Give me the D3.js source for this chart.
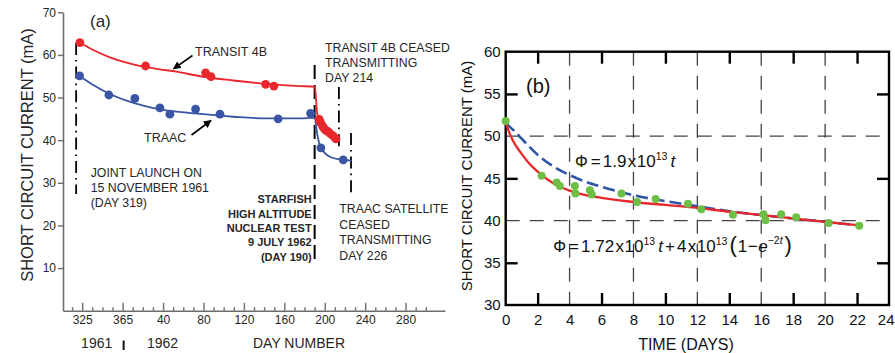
<!DOCTYPE html>
<html>
<head>
<meta charset="utf-8">
<script src="https://cdn.jsdelivr.net/npm/d3@7"></script>
<style>
  html, body { margin: 0; padding: 0; background: #fff; }
  svg { display: block; font-family: "Liberation Sans", Arial, Helvetica, sans-serif; }
</style>
</head>
<body>
<svg id="chart" width="895" height="353"></svg>
<script>
// ---------- Panel (a): solar-cell current of TRANSIT 4B and TRAAC ----------
// Day numbers are counted from 1 Jan 1961; days of 1962 carry an offset of 365.
const transitDays    = [322.7, 387.7, 447.1, 452.4, 506.5, 514.7, 559.5, 560.9, 562.9, 564.2, 566.1, 568.4, 570.8, 573.4, 576.1];
const transitCurrent = [62.9, 57.4, 55.8, 54.9, 53.1, 52.7, 44.9, 44.1, 43.3, 42.8, 42.3, 42.0, 41.45, 41.0, 40.3];

const transitFitDays    = [322.7, 335.9, 352.4, 368.9, 385.4, 401.9, 418.4, 441.7, 474.4, 507.5, 540.4, 555.2, 557.5, 559.5, 565.2, 570.4, 577.0];
const transitFitCurrent = [62.9, 61.15, 59.44, 58.18, 57.24, 56.63, 56.06, 55.0, 54.0, 53.2, 52.7, 52.55, 46.3, 44.8, 42.4, 41.1, 39.9];

const traacDays    = [322.4, 351.4, 377.1, 401.9, 411.8, 437.2, 461.3, 518.9, 551.0, 561.2, 583.3];
const traacCurrent = [55.1, 50.6, 49.8, 47.6, 46.1, 47.3, 46.1, 45.0, 46.3, 38.2, 35.4];

const traacFitDays    = [322.4, 335.9, 352.4, 368.9, 385.4, 401.9, 418.4, 434.8, 474.4, 507.5, 540.4, 555.2, 556.9, 559.5, 561.8, 570.1, 583.3, 591.6];
const traacFitCurrent = [55.06, 52.95, 50.83, 49.26, 48.09, 47.24, 46.68, 46.3, 45.5, 45.1, 45.1, 45.27, 42.4, 39.3, 38.1, 36.1, 35.35, 35.2];

const launchDay      = 319;        // 15 November 1961
const starfishDay    = 365 + 190;  // 9 July 1962
const transitEndDay  = 365 + 214;
const traacEndDay    = 365 + 226;

const dayMajorTicks  = [325, 365, 405, 445, 485, 525, 565, 605, 645];
const dayTickLabels  = ["325", "365", "40", "80", "120", "160", "200", "240", "280"];
const dayMinorTicks  = d3.range(315, 666, 10).filter(d => !dayMajorTicks.includes(d));
const currentTicksA  = [10, 20, 30, 40, 50, 60, 70];

// ---------- Panel (b): current versus time after the test ----------
const timeDays    = [0, 2.25, 3.19, 3.39, 4.33, 4.37, 5.27, 5.39, 7.25, 8.23, 9.39, 11.41, 12.25, 14.23, 16.14, 16.27, 17.25, 18.19, 20.23, 22.14];
const measuredmA  = [51.8, 45.3, 44.5, 44.1, 44.1, 43.2, 43.6, 43.1, 43.2, 42.2, 42.55, 42.0, 41.35, 40.7, 40.75, 40.05, 40.75, 40.4, 39.7, 39.4];

const fitTime     = [0, 0.25, 0.5, 1, 1.5, 2, 3, 4, 5, 6, 8, 10, 12, 14, 16, 18, 20, 22];
const twoTermFit  = [51.6, 50.3, 49.3, 47.9, 46.7, 45.8, 44.4, 43.55, 43.0, 42.7, 42.2, 41.85, 41.5, 41.05, 40.65, 40.25, 39.85, 39.45];
const linearFit   = [51.6, 51.1, 50.7, 49.7, 48.7, 47.8, 46.4, 45.4, 44.6, 44.0, 43.0, 42.3, 41.7, 41.1, 40.65, 40.25, 39.85, 39.45];

const timeLabels  = d3.range(0, 25, 2);
const timeTicks   = [2, 6, 10, 14, 18, 22];
const timeGrid    = [4, 8, 12, 16, 20];
const mAlabelsB   = [30, 35, 40, 45, 50, 55, 60];
const mATicksB    = [35, 45, 55];
const mAGridB     = [40, 50];

// ---------- colours ----------
const RED = "#e8262b", BLUE = "#3a55a4", GREEN = "#6dbf46", AXIS_GREY = "#6e6e6e", TEXT = "#262626";

const svg = d3.select("#chart");

// arrow head marker
svg.append("defs").append("marker")
  .attr("id", "arrowHead").attr("viewBox", "0 0 10 10")
  .attr("refX", 9).attr("refY", 5)
  .attr("markerWidth", 8).attr("markerHeight", 8)
  .attr("markerUnits", "userSpaceOnUse")
  .attr("orient", "auto")
  .append("path").attr("d", "M0,0 L10,5 L0,10 Z").attr("fill", "#000");

// ================= Panel (a) =================
const xA = d3.scaleLinear().domain([306, 684]).range([63, 445]);
const yA = d3.scaleLinear().domain([0, 70]).range([310.7, 12.3]);
const gA = svg.append("g");

// y axis
const yAxisA = gA.append("g").attr("transform", `translate(${xA.range()[0]},0)`)
  .call(d3.axisLeft(yA).tickValues(currentTicksA).tickSize(5).tickSizeOuter(0).tickPadding(2));
// x axis (major + minor ticks pointing up)
const xAxisA = gA.append("g").attr("transform", `translate(0,${yA(0)})`)
  .call(d3.axisBottom(xA).tickValues(dayMajorTicks).tickSize(-8).tickSizeOuter(0).tickPadding(13)
        .tickFormat((d, i) => dayTickLabels[i]));
const xMinorA = gA.append("g").attr("transform", `translate(0,${yA(0)})`)
  .call(d3.axisBottom(xA).tickValues(dayMinorTicks).tickSize(-3.5).tickSizeOuter(0).tickFormat(""));
xMinorA.select(".domain").remove();
[yAxisA, xAxisA, xMinorA].forEach(ax => {
  ax.selectAll("path.domain").attr("stroke", AXIS_GREY).attr("stroke-width", 1.6);
  ax.selectAll(".tick line").attr("stroke", AXIS_GREY).attr("stroke-width", 1.4);
  ax.selectAll("text").attr("fill", TEXT).attr("font-size", 12)
    .attr("font-family", "'Liberation Sans', Arial, sans-serif");
});
xAxisA.selectAll("text").attr("dy", null).attr("y", 13.3);

gA.append("text").attr("transform", "translate(33,155) rotate(-90)")
  .attr("text-anchor", "middle").attr("font-size", 16.5).attr("fill", TEXT)
  .text("SHORT CIRCUIT CURRENT (mA)");

gA.append("text").attr("x", 96.7).attr("y", 348).attr("text-anchor", "middle")
  .attr("font-size", 14).attr("fill", TEXT).text("1961");
gA.append("text").attr("x", 162.5).attr("y", 348).attr("text-anchor", "middle")
  .attr("font-size", 14).attr("fill", TEXT).text("1962");
gA.append("line").attr("x1", xA(366)).attr("x2", xA(366)).attr("y1", 340.5).attr("y2", 350)
  .attr("stroke", "#111").attr("stroke-width", 2);
gA.append("text").attr("x", 299).attr("y", 348).attr("text-anchor", "middle")
  .attr("font-size", 14).attr("fill", TEXT).text("DAY NUMBER");

gA.append("text").attr("x", 90).attr("y", 27).attr("font-size", 17).attr("fill", TEXT).text("(a)");

// event lines
const dashDot = "12,5,1.6,5";
gA.append("line").attr("x1", xA(launchDay)).attr("x2", xA(launchDay)).attr("y1", 43).attr("y2", 194)
  .attr("stroke", "#000").attr("stroke-width", 1.8).attr("stroke-dasharray", dashDot);
gA.append("line").attr("x1", xA(starfishDay)).attr("x2", xA(starfishDay)).attr("y1", 65).attr("y2", 263)
  .attr("stroke", "#000").attr("stroke-width", 2).attr("stroke-dasharray", "14,6");
gA.append("line").attr("x1", xA(transitEndDay)).attr("x2", xA(transitEndDay)).attr("y1", 87).attr("y2", 148)
  .attr("stroke", "#000").attr("stroke-width", 1.8).attr("stroke-dasharray", dashDot);
gA.append("line").attr("x1", xA(traacEndDay)).attr("x2", xA(traacEndDay)).attr("y1", 133).attr("y2", 194)
  .attr("stroke", "#000").attr("stroke-width", 1.8).attr("stroke-dasharray", dashDot);

// fitted curves
const lineA = d3.line().x(d => xA(d[0])).y(d => yA(d[1])).curve(d3.curveMonotoneX);
gA.append("path").datum(d3.zip(traacFitDays, traacFitCurrent)).attr("d", lineA)
  .attr("fill", "none").attr("stroke", BLUE).attr("stroke-width", 1.8);
gA.append("path").datum(d3.zip(transitFitDays, transitFitCurrent)).attr("d", lineA)
  .attr("fill", "none").attr("stroke", RED).attr("stroke-width", 1.8);

// measurements
gA.append("g").selectAll("circle").data(d3.zip(traacDays, traacCurrent)).join("circle")
  .attr("cx", d => xA(d[0])).attr("cy", d => yA(d[1])).attr("r", 4.4).attr("fill", BLUE);
gA.append("g").selectAll("circle").data(d3.zip(transitDays, transitCurrent)).join("circle")
  .attr("cx", d => xA(d[0])).attr("cy", d => yA(d[1])).attr("r", 4.4).attr("fill", RED);

// annotations
function multiline(g, x, y, lines, step, opts) {
  const t = g.append("text").attr("x", x).attr("y", y).attr("fill", TEXT)
    .attr("font-size", opts.size).attr("text-anchor", opts.anchor || "start")
    .attr("font-weight", opts.weight || "normal");
  lines.forEach((s, i) => t.append("tspan").attr("x", x).attr("y", y + i * step).text(s));
  return t;
}
gA.append("text").attr("x", 195).attr("y", 56).attr("font-size", 12.5).attr("fill", TEXT).text("TRANSIT 4B");
gA.append("line").attr("x1", 192.5).attr("y1", 55.5).attr("x2", 173.5).attr("y2", 68.8)
  .attr("stroke", "#000").attr("stroke-width", 1.6).attr("marker-end", "url(#arrowHead)");
gA.append("text").attr("x", 144).attr("y", 141.5).attr("font-size", 12.5).attr("fill", TEXT).text("TRAAC");
gA.append("line").attr("x1", 191.5).attr("y1", 135).attr("x2", 211).attr("y2", 120.5)
  .attr("stroke", "#000").attr("stroke-width", 1.6).attr("marker-end", "url(#arrowHead)");

multiline(gA, 325, 51.5, ["TRANSIT 4B CEASED", "TRANSMITTING", "DAY 214"], 15, { size: 12.3 });
multiline(gA, 90.7, 176.5, ["JOINT LAUNCH ON", "15 NOVEMBER 1961", "(DAY 319)"], 15, { size: 12.3 });
multiline(gA, 311.7, 203.3, ["STARFISH", "HIGH ALTITUDE", "NUCLEAR TEST", "9 JULY 1962", "(DAY 190)"], 14.3,
          { size: 11, anchor: "end", weight: "bold" });
multiline(gA, 339.3, 213, ["TRAAC SATELLITE", "CEASED", "TRANSMITTING", "DAY 226"], 15.5, { size: 12.3 });

// ================= Panel (b) =================
const xB = d3.scaleLinear().domain([0, 24]).range([505.7, 889]);
const yB = d3.scaleLinear().domain([30, 60]).range([305, 51.7]);
const gB = svg.append("g");

// dashed grid
const gridStyle = sel => sel.attr("stroke", "#444").attr("stroke-width", 1.3).attr("stroke-dasharray", "14,10");
gB.append("g").selectAll("line").data(timeGrid).join("line")
  .attr("x1", d => xB(d)).attr("x2", d => xB(d)).attr("y1", yB(60)).attr("y2", yB(30)).call(gridStyle);
gB.append("g").selectAll("line").data(mAGridB).join("line")
  .attr("x1", xB(0)).attr("x2", xB(24)).attr("y1", d => yB(d)).attr("y2", d => yB(d)).call(gridStyle);

// inner ticks on all four sides
function innerTicks(axisFn, scale, values, transform) {
  const g = gB.append("g").attr("transform", transform)
    .call(axisFn(scale).tickValues(values).tickSize(-12).tickSizeOuter(0).tickFormat(""));
  g.select(".domain").remove();
  g.selectAll(".tick line").attr("stroke", "#000").attr("stroke-width", 2.4);
}
innerTicks(d3.axisBottom, xB, timeTicks, `translate(0,${yB(30)})`);
innerTicks(d3.axisTop, xB, timeTicks, `translate(0,${yB(60)})`);
innerTicks(d3.axisLeft, yB, mATicksB, `translate(${xB(0)},0)`);
innerTicks(d3.axisRight, yB, mATicksB, `translate(${xB(24)},0)`);

// tick labels (the last one is tucked against the right edge of the page)
const xLabB = gB.append("g").attr("transform", `translate(0,${yB(30)})`)
  .call(d3.axisBottom(xB).tickValues(timeLabels).tickSize(0).tickPadding(9).tickFormat(d3.format("d")));
const yLabB = gB.append("g").attr("transform", `translate(${xB(0)},0)`)
  .call(d3.axisLeft(yB).tickValues(mAlabelsB).tickSize(0).tickPadding(5).tickFormat(d3.format("d")));
[xLabB, yLabB].forEach(ax => {
  ax.select(".domain").remove();
  ax.selectAll("text").attr("fill", "#111").attr("font-size", 15)
    .attr("font-family", "'Liberation Sans', Arial, sans-serif");
});
xLabB.selectAll(".tick").filter(d => d === 24).select("text")
  .attr("text-anchor", "end").attr("x", 894 - xB(24));

// frame
gB.append("rect").attr("x", xB(0)).attr("y", yB(60))
  .attr("width", xB(24) - xB(0)).attr("height", yB(30) - yB(60))
  .attr("fill", "none").attr("stroke", "#000").attr("stroke-width", 2.4);

gB.append("text").attr("transform", "translate(471.5,176) rotate(-90)")
  .attr("text-anchor", "middle").attr("font-size", 15).attr("fill", "#111")
  .text("SHORT CIRCUIT CURRENT (mA)");
gB.append("text").attr("x", 686).attr("y", 349.5).attr("text-anchor", "middle")
  .attr("font-size", 16).attr("fill", "#111").text("TIME (DAYS)");
gB.append("text").attr("x", 526).attr("y", 93).attr("font-size", 20).attr("fill", "#111").text("(b)");

// fits
const lineB = d3.line().x(d => xB(d[0])).y(d => yB(d[1])).curve(d3.curveMonotoneX);
gB.append("path").datum(d3.zip(fitTime, linearFit)).attr("d", lineB)
  .attr("fill", "none").attr("stroke", "#2f56a6").attr("stroke-width", 2.6).attr("stroke-dasharray", "12,5");
gB.append("path").datum(d3.zip(fitTime, twoTermFit)).attr("d", lineB)
  .attr("fill", "none").attr("stroke", RED).attr("stroke-width", 2.3);

// measurements
gB.append("g").selectAll("circle").data(d3.zip(timeDays, measuredmA)).join("circle")
  .attr("cx", d => xB(d[0])).attr("cy", d => yB(d[1])).attr("r", 4).attr("fill", GREEN);

// fluence expressions
function equation(x, y, parts) {
  const t = gB.append("text").attr("x", x).attr("y", y).attr("font-size", 17).attr("fill", "#111");
  parts.forEach(p => {
    const s = t.append("tspan").text(p.s);
    if (p.dx !== undefined) s.attr("dx", p.dx);
    if (p.dy !== undefined) s.attr("dy", p.dy);
    if (p.size) s.attr("font-size", p.size);
    if (p.it) s.attr("font-style", "italic");
  });
}
equation(575, 166.5, [
  { s: "\u03A6", size: 16 }, { s: "=", dx: 3 }, { s: "1.9", dx: 2 }, { s: "x", dx: 1.5 }, { s: "10", dx: 0.5 },
  { s: "13", dy: -7, size: 10.5 }, { s: "t", dy: 7, dx: 3, it: true }
]);
equation(553.3, 251.7, [
  { s: "\u03A6", size: 16 }, { s: "=", dx: 3 }, { s: "1.72", dx: 2 }, { s: "x", dx: 1.5 }, { s: "10", dx: 0.5 },
  { s: "13", dy: -7, size: 10.5 }, { s: "t", dy: 7, dx: 3, it: true }, { s: "+", dx: 2 }, { s: "4", dx: 2 },
  { s: "x", dx: 1.5 }, { s: "10", dx: 0.5 }, { s: "13", dy: -7, size: 10.5 },
  { s: "(", dy: 7, dx: 2, size: 22 }, { s: "1", dx: 1 }, { s: "\u2212", dx: 0.5 }, { s: "e", dx: 0.5, it: true },
  { s: "\u22122", dy: -8, size: 10.5 }, { s: "t", size: 10.5, it: true }, { s: ")", dy: 8, dx: 2, size: 22 }
]);
</script>
</body>
</html>
